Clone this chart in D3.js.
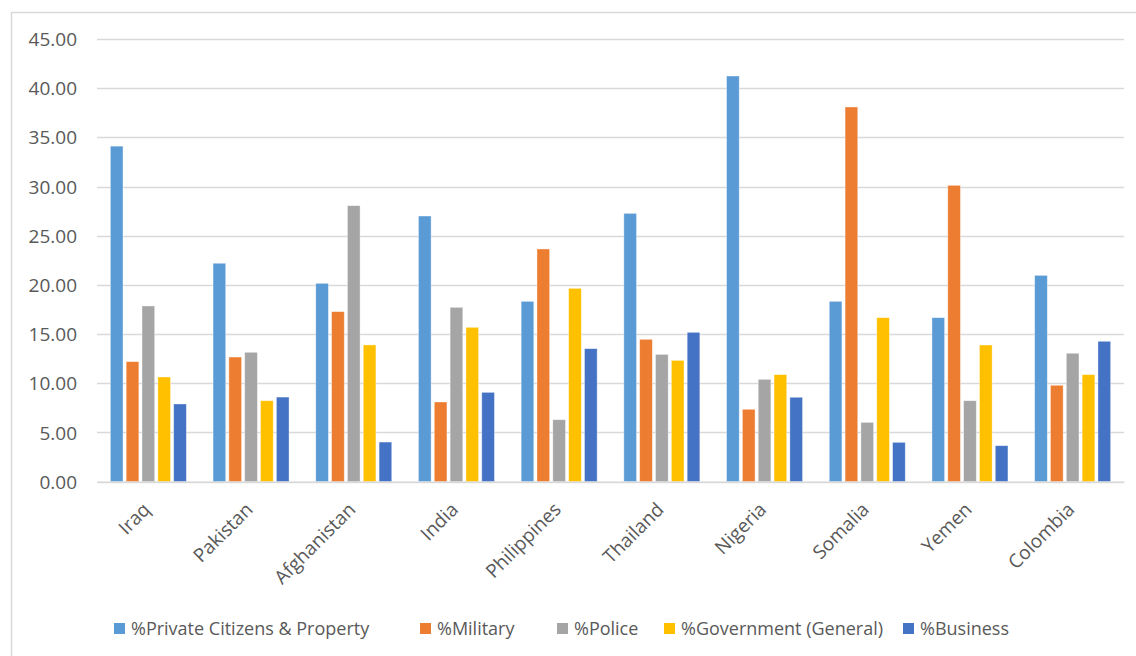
<!DOCTYPE html>
<html><head><meta charset="utf-8">
<script src="https://cdn.jsdelivr.net/npm/d3@7"></script>
<style>
html,body{margin:0;padding:0;background:#fff;overflow:hidden}
svg{display:block}
text{font-family:"Open Sans","Liberation Sans",sans-serif;fill:#595959}
</style></head>
<body><svg id="chart" width="1136" height="656"></svg>
<script>
(function(){
const categories = ["Iraq","Pakistan","Afghanistan","India","Philippines","Thailand","Nigeria","Somalia","Yemen","Colombia"];
const seriesNames = ["%Private Citizens & Property","%Military","%Police","%Government (General)","%Business"];
const privateCitizens = [34.1, 22.2, 20.16, 27.0, 18.33, 27.27, 41.23, 18.33, 16.67, 20.97];
const military        = [12.2, 12.67, 17.28, 8.1, 23.65, 14.47, 7.36, 38.08, 30.12, 9.8];
const police          = [17.86, 13.15, 28.05, 17.72, 6.3, 12.94, 10.4, 6.03, 8.23, 13.05];
const government      = [10.64, 8.23, 13.9, 15.69, 19.65, 12.33, 10.88, 16.67, 13.89, 10.88];
const business        = [7.9, 8.6, 4.03, 9.08, 13.52, 15.18, 8.58, 4.0, 3.66, 14.27];
const yTicks = [0,5,10,15,20,25,30,35,40,45];
const colors = ["#5B9BD5","#ED7D31","#A5A5A5","#FFC000","#4472C4"];

const seriesValues = [privateCitizens, military, police, government, business];

const svg = d3.select("#chart");
// frame
svg.append("rect").attr("x",11.5).attr("y",12.5).attr("width",1200).attr("height",700)
  .attr("fill","none").attr("stroke","#d9d9d9").attr("stroke-width",1.5);

const mLeft = 97, mRight = 1124, mTop = 38.9, mBottom = 481.7;
const x = d3.scaleBand().domain(categories).range([mLeft,mRight]).paddingInner(0).paddingOuter(0);
const y = d3.scaleLinear().domain([0,45]).range([mBottom, mTop]);
const groupW = 76;
const xs = d3.scaleBand().domain(d3.range(seriesNames.length)).range([0,groupW]).paddingInner(0.2).paddingOuter(0);

// gridlines
svg.append("g").selectAll("line").data(yTicks).join("line")
  .attr("x1",mLeft).attr("x2",mRight)
  .attr("y1",d=>Math.round(y(d))+0.5).attr("y2",d=>Math.round(y(d))+0.5)
  .attr("stroke","#d9d9d9").attr("stroke-width",1.3);

// y axis labels
const yAxis = d3.axisLeft(y).tickValues(yTicks).tickFormat(d3.format(".2f")).tickSize(0).tickPadding(0);
const gy = svg.append("g").attr("transform",`translate(77,0)`).call(yAxis);
gy.select(".domain").remove();
gy.selectAll("text").style("font-size","19px").attr("fill","#595959").attr("dy","0.35em");

// bars
const groups = svg.append("g").selectAll("g").data(categories).join("g")
  .attr("transform",d=>`translate(${x(d)+x.bandwidth()/2-groupW/2},0)`);
groups.selectAll("rect").data((c,i)=>seriesValues.map((s,k)=>({k, v:s[i]}))).join("rect")
  .attr("x",d=>xs(d.k)).attr("width",xs.bandwidth())
  .attr("y",d=>y(d.v)).attr("height",d=>y(0)-y(d.v))
  .attr("fill",d=>colors[d.k]).attr("stroke","#fff").attr("stroke-opacity",0.5).attr("stroke-width",0.75);

// x axis
const xAxis = d3.axisBottom(x).tickSize(0).tickPadding(0);
const gx = svg.append("g").attr("transform",`translate(0,${mBottom})`).call(xAxis);
gx.select(".domain").attr("stroke","#d9d9d9").attr("stroke-width",1.3);
gx.selectAll("text")
  .style("font-size","19px").attr("fill","#595959")
  .attr("text-anchor","end")
  .attr("dy",null).attr("y",0)
  .attr("transform","translate(3,29) rotate(-45)");

// legend
const legendX = [114, 420, 557, 664, 903];
const lg = svg.append("g");
const items = lg.selectAll("g").data(seriesNames).join("g")
  .attr("transform",(d,i)=>`translate(${legendX[i]},628.5)`);
items.append("rect").attr("width",11).attr("height",11).attr("y",-5.5).attr("fill",(d,i)=>colors[i]);
items.append("text").attr("x",17).attr("dy","0.35em").style("font-size","18px").text(d=>d);
})();
</script></body></html>
